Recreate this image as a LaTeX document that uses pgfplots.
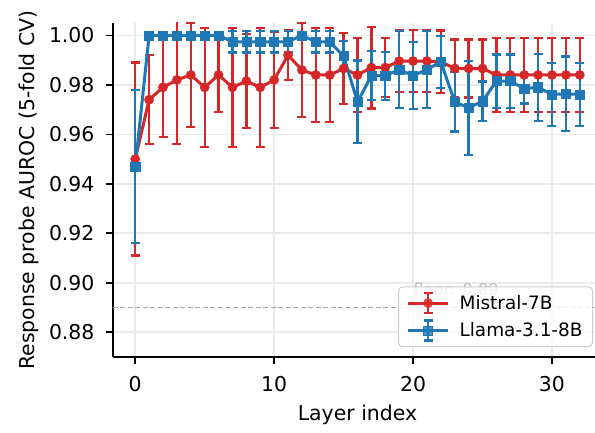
\documentclass[border=0pt]{standalone}
\usepackage{fontspec}
\setmainfont{DejaVu Sans}
\usepackage{pgfplots}
\pgfplotsset{compat=1.18}
\definecolor{mred}{HTML}{D62728}
\definecolor{mblue}{HTML}{1F77B4}
\begin{document}
\begin{tikzpicture}
\begin{axis}[
  scale only axis, width=489bp, height=334bp,
  xmin=-1.6, xmax=33.6, ymin=0.87, ymax=1.005,
  axis x line*=bottom, axis y line*=left,
  axis line style={line width=1.6bp, -},
  xtick={0,10,20,30}, ytick={0.88,0.90,0.92,0.94,0.96,0.98,1.00},
  yticklabel style={/pgf/number format/.cd, fixed, fixed zerofill, precision=2},
  /pgf/number format/assume math mode=true,
  tick align=outside, major tick length=7bp,
  major tick style={line width=1.6bp, black},
  grid=major, major grid style={line width=1.6bp, black!8},
  ticklabel style={font=\fontsize{20.5}{24}\selectfont},
  label style={font=\fontsize{20.5}{24}\selectfont},
  xticklabel shift=9bp, yticklabel shift=8bp,
  xlabel shift=6bp, ylabel shift=3bp,
  xlabel={Layer index}, ylabel={Response probe AUROC (5-fold CV)},
  legend cell align=left,
  legend style={at={(1,0)}, anchor=south east, xshift=-9bp, yshift=10bp,
    font=\fontsize{18.5}{22}\selectfont, draw=black!20, line width=1bp,
    rounded corners=4bp, fill=white, fill opacity=0.8, text opacity=1,
    inner xsep=8bp, inner ysep=5bp, row sep=5bp,
    /tikz/every odd column/.append style={column sep=8bp}},
  legend image code/.code={
    \draw[line width=3bp, mark=none] (0bp,0bp) -- (40bp,0bp);
    \draw[line width=2.3bp, mark=none] (20bp,-10bp) -- (20bp,10bp);
    \draw[line width=2.3bp, mark=none] (15.5bp,-10bp) -- (24.5bp,-10bp) (15.5bp,10bp) -- (24.5bp,10bp);
    \draw plot coordinates {(20bp,0bp)};
  },
]
\draw[black!35, line width=1.2bp, dash pattern=on 5bp off 2.5bp] (axis cs:-1.6,0.89) -- (axis cs:33.6,0.89);
\node[anchor=base west, text=black!25, inner sep=0pt, font=\fontsize{16.4}{18}\selectfont] at (axis cs:20.0,0.8947) {floor: 0.89};
\addplot[mred, line width=3bp, mark=*, mark size=4.6bp, mark options={solid, line width=0.5bp},
  error bars/.cd, y dir=both, y explicit,
  error bar style={mred, line width=2.3bp},
  error mark options={rotate=90, mark size=4.5bp, line width=2.3bp, mred}]
table[x=x, y=y, y error=e] {
x y e
0 0.950 0.039
1 0.974 0.018
2 0.979 0.020
3 0.982 0.026
4 0.984 0.021
5 0.979 0.024
6 0.984 0.015
7 0.979 0.024
8 0.9815 0.019
9 0.979 0.024
10 0.982 0.0195
11 0.992 0.010
12 0.986 0.019
13 0.984 0.019
14 0.984 0.019
15 0.9866 0.0143
16 0.984 0.015
17 0.987 0.0165
18 0.987 0.012
19 0.9896 0.0126
20 0.9896 0.0126
21 0.9896 0.0126
22 0.9894 0.0126
23 0.9866 0.0117
24 0.9866 0.0117
25 0.9866 0.0117
26 0.984 0.015
27 0.984 0.015
28 0.984 0.015
29 0.984 0.015
30 0.984 0.015
31 0.984 0.015
32 0.984 0.015
};
\addlegendentry{Mistral-7B}
\addplot[mblue, line width=3bp, mark=square*, mark size=4.6bp, mark options={solid, line width=0.5bp},
  error bars/.cd, y dir=both, y explicit,
  error bar style={mblue, line width=2.3bp},
  error mark options={rotate=90, mark size=4.5bp, line width=2.3bp, mblue}]
table[x=x, y=y, y error=e] {
x y e
0 0.947 0.031
1 1.000 0
2 1.000 0
3 1.000 0
4 1.000 0
5 1.000 0
6 1.000 0
7 0.9974 0.0043
8 0.9974 0.0043
9 0.9974 0.0043
10 0.9974 0.0043
11 0.9974 0.0043
12 1.000 0
13 0.9974 0.0043
14 0.9974 0.0043
15 0.9916 0.006
16 0.9731 0.0167
17 0.9837 0.0099
18 0.9837 0.0097
19 0.9862 0.0155
20 0.9837 0.0135
21 0.9862 0.0155
22 0.9893 0.0105
23 0.9731 0.012
24 0.9707 0.019
25 0.9734 0.008
26 0.9815 0.0108
27 0.9815 0.0108
28 0.9785 0.006
29 0.979 0.0135
30 0.9761 0.0128
31 0.9764 0.015
32 0.9761 0.0128
};
\addlegendentry{Llama-3.1-8B}
\end{axis}
\pgfresetboundingbox
\useasboundingbox ([shift={(-113bp,-76bp)}]current axis.south west) rectangle ([shift={(-7bp,23bp)}]current axis.north east);
\end{tikzpicture}
\end{document}
